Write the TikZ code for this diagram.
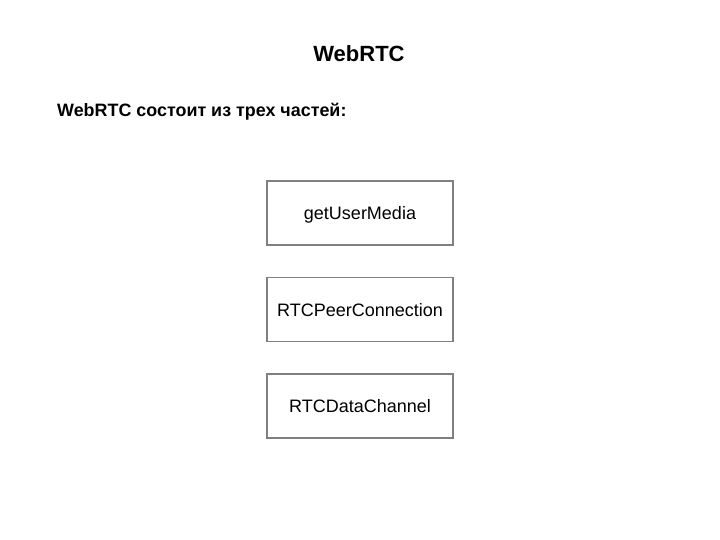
\documentclass[tikz,border=0pt]{standalone}
\usepackage{fontspec}
\setmainfont{Liberation Sans}
\begin{document}
\begin{tikzpicture}[x=1pt,y=-1pt,
  partbox/.style={draw=boxgray,line width=1.5pt,fill=white,minimum width=186pt,minimum height=64pt,inner sep=0pt,text depth=0pt,text height=13pt,font=\fontsize{18}{20}\selectfont},
  ]
\definecolor{boxgray}{RGB}{128,128,128}
\useasboundingbox[fill=white] (0,0) rectangle (720,540);
\node[font=\bfseries\fontsize{22}{26}\selectfont,anchor=base] (title) at (359,62) {WebRTC};
\node[font=\bfseries\fontsize{17.9}{20}\selectfont,anchor=base west,inner sep=0pt] (sub) at (57,117) {WebRTC состоит из трех частей:};
\node[partbox] (gum) at (360,213) {getUserMedia};
\node[partbox] (pc) at (360,309.5) {RTCPeerConnection};
\node[partbox] (dc) at (360,406) {RTCDataChannel};
\end{tikzpicture}
\end{document}
